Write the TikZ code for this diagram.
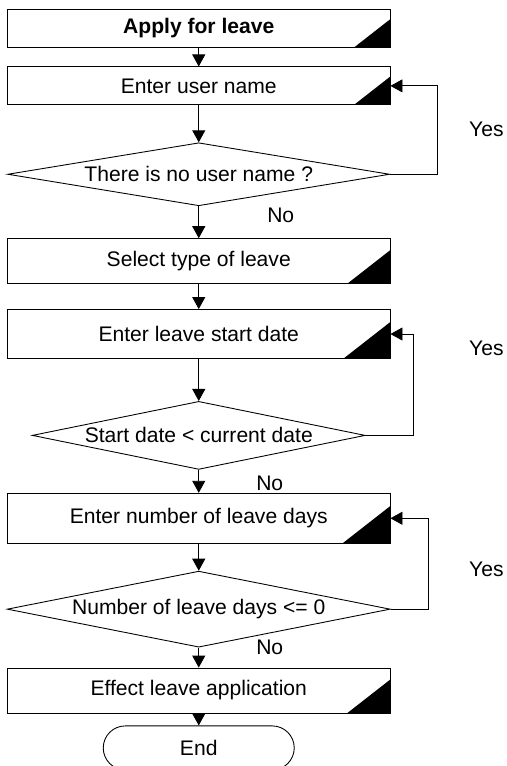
\documentclass[tikz,border=0pt]{standalone}
\usepackage{fontspec}
\setmainfont{Liberation Sans}
\usetikzlibrary{arrows.meta,positioning,shapes.geometric,calc}

\begin{document}
\begin{tikzpicture}[
  font=\fontsize{12pt}{14pt}\selectfont,
  proc/.style={draw,line width=0.5pt,minimum width=76.5mm,inner sep=0pt,
               path picture={\fill let \p1=(path picture bounding box.north east),
                 \p2=(path picture bounding box.south west),\n1={0.74*(\y1-\y2)}
                 in (\x1,\y2) -- (\x1-1.28*\n1,\y2) -- (\x1,\y2+\n1) -- cycle;}},
  dec/.style={diamond,draw,line width=0.5pt,inner sep=0pt},
  term/.style={draw,line width=0.5pt,rounded corners=4.4mm,minimum width=38.2mm,
               minimum height=8.8mm},
  arr/.style={-{Triangle[length=2.4mm,width=2.6mm]},line width=0.5pt},
  lbl/.style={inner sep=0pt}
]
\useasboundingbox (0,0) rectangle (101.2mm,-153.2mm);
\node[proc,minimum height=7.6mm] (app) at (39.75mm,-5.7mm) {\textbf{Apply for leave}};
\node[proc,minimum height=7.6mm,below=3.7mm of app] (usr) {Enter user name};
\node[dec,minimum width=76.4mm,minimum height=12.6mm,aspect=6.06,below=7.4mm of usr]
     (nousr) {There is no user name ?};
\node[proc,minimum height=9mm,below=6.4mm of nousr] (typ) {Select type of leave};
\node[proc,minimum height=9.8mm,below=5mm of typ] (sta) {Enter leave start date};
\node[dec,minimum width=66.6mm,minimum height=13.6mm,aspect=4.9,below=8.4mm of sta]
     (past) {Start date < current date};
\node[proc,minimum height=10mm,below=4.6mm of past] (nd) {Enter number of leave days};
\node[dec,minimum width=76.6mm,minimum height=15.2mm,aspect=5.04,below=5.4mm of nd]
     (zero) {Number of leave days <= 0};
\node[proc,minimum height=9mm,below=4mm of zero] (eff) {Effect leave application};
\node[term,below=2.4mm of eff] (fin) {End};
\draw[arr] (app) -- (usr);
\draw[arr] (usr) -- (nousr);
\draw[arr] (nousr) -- (typ);
\draw[arr] (typ) -- (sta);
\draw[arr] (sta) -- (past);
\draw[arr] (past) -- (nd);
\draw[arr] (nd) -- (zero);
\draw[arr] (zero) -- (eff);
\draw[arr] (eff) -- (fin);
\draw[arr] (nousr.east) -- ++(9.4mm,0) |- (usr.east);
\draw[arr] (past.east) -- ++(9.6mm,0) |- (sta.east);
\draw[arr] (zero.east) -- ++(7.6mm,0) |- (nd.east);
\node[lbl] (y1) at ([xshift=19.2mm,yshift=-8.6mm]usr.east) {Yes};
\node[lbl] (y2) at ([xshift=19.2mm,yshift=-2.9mm]sta.east) {Yes};
\node[lbl] (y3) at ([xshift=19.2mm,yshift=-10.2mm]nd.east) {Yes};
\node[lbl] (n1) at ([xshift=16.4mm,yshift=-1.8mm]nousr.south) {No};
\node[lbl] (n2) at ([xshift=14.2mm,yshift=-2.8mm]past.south) {No};
\node[lbl] (n3) at ([xshift=14.2mm]zero.south) {No};
\end{tikzpicture}
\end{document}
